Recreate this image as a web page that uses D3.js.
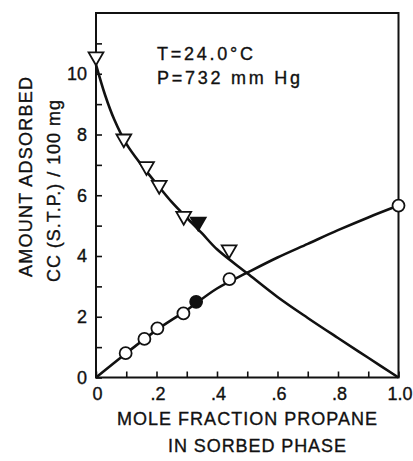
<!DOCTYPE html>
<html>
<head>
<meta charset="utf-8">
<script src="https://cdn.jsdelivr.net/npm/d3@7"></script>
<style>
  body { margin: 0; background: #fff; }
  text { font-family: "Liberation Sans", Arial, sans-serif; fill: #111; stroke: #111; stroke-width: 0.35; }
  .curve { fill: none; stroke: #111; stroke-width: 2.6; }
  .frame { fill: none; stroke: #111; stroke-width: 2; }
  .tick line { stroke: #111; stroke-width: 1.6; }
  .mark { stroke: #111; stroke-width: 1.8; }
</style>
</head>
<body>
<div id="chart"></div>
<script>
// measured points, open symbols
let triX = [0.0, 0.092, 0.167, 0.209, 0.290, 0.440];
let triY = [10.56, 7.86, 6.95, 6.33, 5.31, 4.21];
let circX = [0.098, 0.160, 0.203, 0.289, 0.441, 1.0];
let circY = [0.80, 1.27, 1.62, 2.11, 3.24, 5.66];

// filled symbols
let triFilledX = [0.338];
let triFilledY = [5.12];
let circFilledX = [0.331];
let circFilledY = [2.49];

// smooth curves
let downCurveX = [0.0, 0.03, 0.06, 0.10, 0.15, 0.20, 0.25, 0.30, 0.35, 0.40, 0.50, 0.60, 0.70, 0.80, 0.90, 1.0];
let downCurveY = [10.3, 9.3, 8.5, 7.7, 7.0, 6.38, 5.78, 5.26, 4.75, 4.22, 3.43, 2.65, 1.96, 1.3, 0.65, 0.0];
let upCurveX = [0.0, 0.1, 0.2, 0.3, 0.4, 0.5, 0.6, 0.7, 0.8, 0.9, 1.0];
let upCurveY = [0.0, 0.8, 1.56, 2.22, 2.93, 3.45, 3.95, 4.4, 4.85, 5.27, 5.66];

let xTicks = [0, 0.1, 0.2, 0.3, 0.4, 0.5, 0.6, 0.7, 0.8, 0.9, 1.0];
let xTickLabels = ['0', '', '.2', '', '.4', '', '.6', '', '.8', '', '1.0'];
let yTicks = [0, 1, 2, 3, 4, 5, 6, 7, 8, 9, 10, 11];
let yTickLabels = ['0', '', '2', '', '4', '', '6', '', '8', '', '10', ''];

let w = 413;
let h = 461;

let x = d3.scaleLinear().domain([0, 1]).range([96, 398.5]);
let y = d3.scaleLinear().domain([0, 12]).range([377.5, 13]);

let svg = d3.select('#chart')
  .append('svg')
  .attr('width', w)
  .attr('height', h);

// frame
svg.append('rect')
  .attr('class', 'frame')
  .attr('x', x(0))
  .attr('y', y(12))
  .attr('width', x(1) - x(0))
  .attr('height', y(0) - y(12));

// x axis, ticks pointing inward
let xAxis = svg.append('g')
  .attr('transform', 'translate(0,' + y(0) + ')')
  .call(d3.axisBottom(x)
    .tickValues(xTicks)
    .tickSize(-6)
    .tickFormat(function(d, i) { return xTickLabels[i]; }));
xAxis.select('.domain').remove();
xAxis.selectAll('text')
  .attr('y', 10)
  .attr('dx', 1)
  .style('font-size', '18px')
  .style('font-family', '"Liberation Sans", Arial, sans-serif');

// y axis
let yAxis = svg.append('g')
  .attr('transform', 'translate(' + x(0) + ',0)')
  .call(d3.axisLeft(y)
    .tickValues(yTicks)
    .tickSize(-6)
    .tickFormat(function(d, i) { return yTickLabels[i]; }));
yAxis.select('.domain').remove();
yAxis.selectAll('text')
  .attr('x', -9)
  .style('font-size', '18px')
  .style('font-family', '"Liberation Sans", Arial, sans-serif');

// curves
let line = d3.line()
  .x(function(d) { return x(d[0]); })
  .y(function(d) { return y(d[1]); })
  .curve(d3.curveCatmullRom);

svg.append('path')
  .attr('class', 'curve')
  .attr('d', line(d3.zip(downCurveX, downCurveY)));

svg.append('path')
  .attr('class', 'curve')
  .attr('d', line(d3.zip(upCurveX, upCurveY)));

// markers
let tri = d3.symbol().type(d3.symbolTriangle).size(95);

function drawTriangles(xs, ys, fill) {
  svg.append('g').selectAll('path')
    .data(d3.zip(xs, ys))
    .enter()
    .append('path')
    .attr('class', 'mark')
    .attr('d', tri)
    .attr('fill', fill)
    .attr('transform', function(d) {
      return 'translate(' + x(d[0]) + ',' + y(d[1]) + ') rotate(180)';
    });
}

function drawCircles(xs, ys, fill) {
  svg.append('g').selectAll('circle')
    .data(d3.zip(xs, ys))
    .enter()
    .append('circle')
    .attr('class', 'mark')
    .attr('cx', function(d) { return x(d[0]); })
    .attr('cy', function(d) { return y(d[1]); })
    .attr('r', 6)
    .attr('fill', fill);
}

drawTriangles(triX, triY, '#fff');
drawTriangles(triFilledX, triFilledY, '#111');
drawCircles(circX, circY, '#fff');
drawCircles(circFilledX, circFilledY, '#111');

// annotation
svg.append('text')
  .attr('x', 157).attr('y', 60)
  .attr('textLength', 96).attr('lengthAdjust', 'spacing')
  .style('font-size', '18px')
  .text('T=24.0°C');

svg.append('text')
  .attr('x', 157).attr('y', 83.5)
  .attr('textLength', 143).attr('lengthAdjust', 'spacing')
  .style('font-size', '18px')
  .text('P=732  mm  Hg');

// axis titles
svg.append('text')
  .attr('x', 117).attr('y', 425)
  .attr('textLength', 260).attr('lengthAdjust', 'spacing')
  .style('font-size', '18px')
  .text('MOLE  FRACTION  PROPANE');

svg.append('text')
  .attr('x', 168).attr('y', 452)
  .attr('textLength', 178).attr('lengthAdjust', 'spacing')
  .style('font-size', '18px')
  .text('IN  SORBED  PHASE');

svg.append('text')
  .attr('transform', 'translate(32,177) rotate(-90)')
  .attr('text-anchor', 'middle')
  .attr('textLength', 200).attr('lengthAdjust', 'spacing')
  .style('font-size', '18px')
  .text('AMOUNT  ADSORBED');

svg.append('text')
  .attr('transform', 'translate(60,191) rotate(-90)')
  .attr('text-anchor', 'middle')
  .attr('textLength', 182).attr('lengthAdjust', 'spacing')
  .style('font-size', '18px')
  .text('CC (S.T.P.) / 100 mg');
</script>
</body>
</html>
